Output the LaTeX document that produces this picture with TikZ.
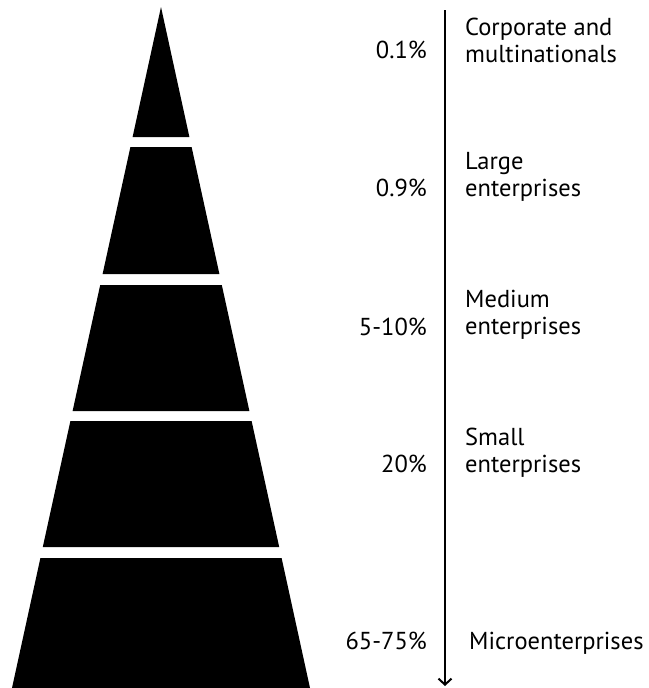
\documentclass[tikz,border=0pt]{standalone}
\usepackage{fontspec}
\setmainfont{PT Sans}
\usetikzlibrary{arrows.meta}
\begin{document}
\begin{tikzpicture}[x=1pt,y=-1pt,
  band/.style={fill=black,draw=none},
  txt/.style={inner sep=0pt,font=\fontsize{24.5}{27}\selectfont},
  pct/.style={txt,anchor=east},
  tier/.style={txt,anchor=west,align=left},
  axis/.style={line width=1.8pt,-{Straight Barb[length=6pt,width=13pt,line width=2pt]}}]
\useasboundingbox (0,0) rectangle (648,688);

% pyramid, cut into five tiers
\fill[band] (161,7) -- (189.4,137) -- (132.6,137) -- cycle;
\fill[band] (130.4,147) -- (191.6,147) -- (219.4,274) -- (102.6,274) -- cycle;
\fill[band] (100.2,285) -- (221.8,285) -- (249.4,411) -- (72.6,411) -- cycle;
\fill[band] (70.4,421) -- (251.6,421) -- (279.2,547) -- (42.8,547) -- cycle;
\fill[band] (40.4,558) -- (281.6,558) -- (310,688) -- (12,688) -- cycle;

% downward axis
\coordinate (axtop) at (445,10);
\coordinate (axbot) at (445,686);
\draw[axis] (axtop) -- (axbot);

% shares
\node[pct] (p1) at (427,50) {0.1\%};
\node[pct] (p2) at (427,188) {0.9\%};
\node[pct] (p3) at (427,327) {5-10\%};
\node[pct] (p4) at (427,464) {20\%};
\node[pct] (p5) at (427,641) {65-75\%};

% tier names
\node[tier] (t1) at (465,40) {Corporate and\\multinationals};
\node[tier] (t2) at (465,177) {Large\\enterprises};
\node[tier] (t3) at (465,315) {Medium\\enterprises};
\node[tier] (t4) at (465,453) {Small\\enterprises};
\node[tier] (t5) at (469,643) {Microenterprises};
\end{tikzpicture}
\end{document}
